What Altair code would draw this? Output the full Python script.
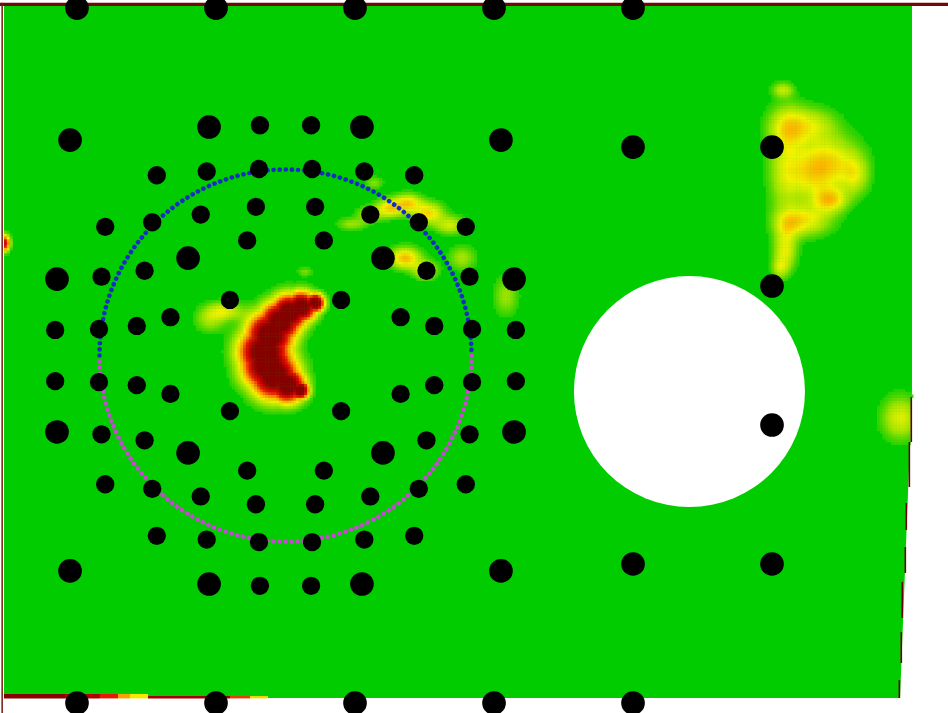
import altair as alt
import numpy as np
import pandas as pd

# ---------------- coordinate frame (mm, grid pitch 100 mm) ----------------
W, H = 948, 713
X_DOMAIN = [-55.4, 626.6]
Y_DOMAIN = [-7.2, 505.8]
PX_PER_MM = W / (X_DOMAIN[1] - X_DOMAIN[0])

# plate outline (right edge slightly slanted)
plate_y = [501.4, 225.2, 3.6]
plate_x_left = [-52.5, -52.5, -52.5]
plate_x_right = [600.7, 600.7, 592.1]

# circular cut-out
hole_center = [440.6, 224.1]
hole_radius = 83.1

# dotted measurement circle
ring_center = [150.0, 250.0]
ring_radius = 133.8

# ---------------- black markers ----------------
grid_dot_x = [0, 100, 200, 300, 400, 0, 100, 200, 300, 400, 400, 500, 500, 500, 400, 500]
grid_dot_y = [500, 500, 500, 500, 500, 0, 0, 0, 0, 0, 400, 400, 300, 200, 100, 100]

ring_large_x = [-5, 305, -5, 305, 95, 205, 95, 205,
                -14.4, 314.4, -14.4, 314.4, 79.9, 220.1, 79.9, 220.1]
ring_large_y = [405, 405, 95, 95, 414.4, 414.4, 85.6, 85.6,
                305, 305, 195, 195, 320.1, 320.1, 179.9, 179.9]

ring_small_x = [131.6, 168.4, 131.6, 168.4, -15.7, 315.7, -15.7, 315.7,
                57.4, 242.6, 57.4, 242.6, 20.3, 279.7, 20.3, 279.7,
                93.3, 206.7, 93.3, 206.7, 17.6, 282.4, 17.6, 282.4,
                130.9, 169.1, 130.9, 169.1, 15.8, 284.2, 15.8, 284.2,
                54.1, 245.9, 54.1, 245.9, 89, 211, 89, 211,
                48.6, 251.4, 48.6, 251.4, 128.7, 171.3, 128.7, 171.3,
                43, 257, 43, 257, 122.4, 177.6, 122.4, 177.6,
                67.2, 232.8, 67.2, 232.8, 110, 190, 110, 190]
ring_small_y = [415.7, 415.7, 84.3, 84.3, 268.4, 268.4, 231.6, 231.6,
                379.7, 379.7, 120.3, 120.3, 342.6, 342.6, 157.4, 157.4,
                382.4, 382.4, 117.6, 117.6, 306.7, 306.7, 193.3, 193.3,
                384.2, 384.2, 115.8, 115.8, 269.1, 269.1, 230.9, 230.9,
                345.9, 345.9, 154.1, 154.1, 351.4, 351.4, 148.6, 148.6,
                311, 311, 189, 189, 357, 357, 143, 143,
                271.3, 271.3, 228.7, 228.7, 332.8, 332.8, 167.2, 167.2,
                277.6, 277.6, 222.4, 222.4, 290, 290, 210, 210]

# ---------------- field: diffuse hot spots ----------------
blob_x = [507.9, 512.9, 530.9, 541.7, 559.7, 509.4, 527.3, 541.7, 523.7, 511.5, 509.4, 505.8,
          225.2, 238.1, 252.5, 268.3, 210.8, 197.8, 213.7, 236.0, 250.4, 277.0, 308.6,
          105.8, 95.7, 592.1, -51.8, 164.0]
blob_y = [441.0, 414.4, 415.8, 388.5, 379.9, 383.5, 379.9, 361.9, 347.5, 343.9, 325.9, 312.9,
          356.1, 359.7, 352.5, 343.9, 351.8, 344.6, 374.1, 320.1, 311.5, 320.1, 292.8,
          282.0, 275.5, 205.0, 330.9, 310.1]
blob_sx = [5.0, 10.0, 11.0, 14.0, 6.5, 8.0, 11.0, 8.0, 12.5, 6.5, 5.5, 4.0,
           6.5, 6.5, 7.2, 7.2, 6.5, 7.2, 4.3, 7.2, 5.8, 6.5, 5.8,
           8.6, 7.2, 8.6, 2.2, 3.6]
blob_sy = [3.6, 10.0, 8.0, 13.0, 9.5, 22.0, 12.5, 6.0, 7.5, 6.5, 9.5, 5.0,
           4.3, 4.3, 5.0, 4.3, 3.6, 2.9, 2.9, 5.0, 4.3, 5.8, 9.4,
           4.3, 5.8, 10.1, 3.6, 2.2]
blob_peak = [0.18, 0.25, 0.16, 0.27, 0.17, 0.18, 0.18, 0.30, 0.25, 0.14, 0.23, 0.16,
             0.30, 0.30, 0.30, 0.20, 0.16, 0.13, 0.11, 0.35, 0.24, 0.14, 0.13,
             0.22, 0.14, 0.22, 0.75, 0.10]

# kidney-shaped hot zone: spine points and local half-width
spine_x = [171.2, 161.2, 152.5, 146.0, 138.8, 135.0, 137.2, 141.7, 151.1, 160.4]
spine_y = [287.8, 284.9, 280.6, 274.1, 264.7, 252.5, 243.2, 236.0, 228.8, 225.2]
spine_w = [6.5, 10.6, 12.9, 14.3, 16.3, 17.8, 17.8, 16.8, 12.4, 6.5]

# boundary artefacts
bottom_x1 = [-52.5, -8.6, 16.5, 29.5, 38.1, 51.1, 110.1, 124.5]
bottom_x2 = [-8.6, 16.5, 29.5, 38.1, 51.1, 110.1, 124.5, 137.4]
bottom_v = [1.0, 0.85, 0.6, 0.4, 0.27, 0.9, 0.55, 0.3]
bottom_top = [6.5, 6.5, 6.5, 6.5, 6.5, 5.0, 5.0, 5.0]

edge_y1 = [220.1, 187.8, 143.9, 112.2, 87.1, 51.1, 16.5]
edge_y2 = [187.8, 155.4, 124.5, 93.5, 61.2, 28.8, 3.6]
edge_x = [600.2, 598.8, 596.6, 595.9, 593.7, 593.0, 591.6]

heat_domain = [0, 0.12, 0.25, 0.4, 0.6, 0.8, 1.0]
heat_range = ["#00cc00", "#98e200", "#f2f200", "#ffa000", "#e81800", "#bc0000", "#860000"]

# ---------------- build field cells ----------------
CELL = 2.0
gx = np.arange(plate_x_left[0], plate_x_right[0], CELL)
gy = np.arange(plate_y[-1], plate_y[0], CELL)
GX, GY = np.meshgrid(gx, gy)
CX, CY = GX + CELL / 2, GY + CELL / 2
soft = np.zeros_like(CX)
for bx, by, sx, sy, p in zip(blob_x, blob_y, blob_sx, blob_sy, blob_peak):
    soft += p * np.exp(-((CX - bx) ** 2 / (2 * sx ** 2) + (CY - by) ** 2 / (2 * sy ** 2)))
kid = np.zeros_like(CX)
for kx, ky, w in zip(spine_x, spine_y, spine_w):
    s = w / 1.6
    kid = np.maximum(kid, 1.3 * np.exp(-((CX - kx) ** 2 + (CY - ky) ** 2) / (2 * s * s)))
val = np.clip(soft + kid, 0, 1)
right_edge = np.interp(CY, plate_y[::-1], plate_x_right[::-1])
inside = (CX <= right_edge) & (((CX - hole_center[0]) ** 2 + (CY - hole_center[1]) ** 2) > hole_radius ** 2)
mask = inside & (val > 0.03)
heat_df = pd.DataFrame({
    "x": GX[mask], "x2": GX[mask] + CELL + 0.3,
    "y": GY[mask], "y2": GY[mask] + CELL + 0.3,
    "v": val[mask],
})

# ---------------- chart ----------------
XS = alt.Scale(domain=X_DOMAIN, nice=False, zero=False)
YS = alt.Scale(domain=Y_DOMAIN, nice=False, zero=False)


def xq(f):
    return alt.X(f, type="quantitative", scale=XS, axis=None)


def yq(f):
    return alt.Y(f, type="quantitative", scale=YS, axis=None)


heat_color = alt.Color("v:Q", scale=alt.Scale(domain=heat_domain, range=heat_range,
                                              clamp=True, interpolate="rgb"), legend=None)

plate = alt.Chart(pd.DataFrame({"y": plate_y, "xl": plate_x_left, "xr": plate_x_right})).mark_area(
    orient="horizontal", color="#00cc00", opacity=1).encode(y=yq("y"), x=xq("xl"), x2="xr")

heat = alt.Chart(heat_df).mark_rect(strokeWidth=0).encode(
    x=xq("x"), x2="x2", y=yq("y"), y2="y2", color=heat_color)

streak = alt.Chart(pd.DataFrame({"x": bottom_x1, "x2": bottom_x2, "y": [3.3] * len(bottom_x1),
                                 "y2": bottom_top, "v": bottom_v})).mark_rect(strokeWidth=0).encode(
    x=xq("x"), x2="x2", y=yq("y"), y2="y2", color=heat_color)

edge = alt.Chart(pd.DataFrame({"x": edge_x, "y": edge_y1, "y2": edge_y2})).mark_rule(
    color="#6a0000", strokeWidth=1.6).encode(x=xq("x"), y=yq("y"), y2="y2")

top_band = alt.Chart(pd.DataFrame({"x": [X_DOMAIN[0]], "x2": [X_DOMAIN[1]],
                                   "y": [501.4], "y2": [503.8]})).mark_rect(color="#700808").encode(
    x=xq("x"), x2="x2", y=yq("y"), y2="y2")

left_line = alt.Chart(pd.DataFrame({"x": [-54.4], "x2": [-53.3],
                                    "y": [Y_DOMAIN[0]], "y2": [503.8]})).mark_rect(color="#7a1c12").encode(
    x=xq("x"), x2="x2", y=yq("y"), y2="y2")

hole = alt.Chart(pd.DataFrame({"x": [hole_center[0]], "y": [hole_center[1]]})).mark_circle(
    color="white", opacity=1, size=(2 * hole_radius * PX_PER_MM) ** 2).encode(x=xq("x"), y=yq("y"))

ring_df = pd.DataFrame({"x": [ring_center[0]], "y": [ring_center[1]]})
ring_size = (2 * ring_radius * PX_PER_MM) ** 2
ring_common = dict(size=ring_size, filled=False, strokeWidth=4.6, strokeDash=[0.1, 5.99],
                   strokeCap="round", opacity=1)
ring_up = alt.Chart(ring_df).mark_point(shape="M-1,0A1,1,0,0,1,1,0", color="#1530c0",
                                        **ring_common).encode(x=xq("x"), y=yq("y"))
ring_lo = alt.Chart(ring_df).mark_point(shape="M1,0A1,1,0,0,1,-1,0", color="#c44ad0",
                                        **ring_common).encode(x=xq("x"), y=yq("y"))

dots_df = pd.DataFrame({
    "x": grid_dot_x + ring_large_x + ring_small_x,
    "y": grid_dot_y + ring_large_y + ring_small_y,
    "kind": ["large"] * (len(grid_dot_x) + len(ring_large_x)) + ["small"] * len(ring_small_x),
})
dots = alt.Chart(dots_df).mark_circle(color="black", opacity=1).encode(
    x=xq("x"), y=yq("y"),
    size=alt.Size("kind:N", scale=alt.Scale(domain=["large", "small"], range=[560, 335]), legend=None))

chart = alt.layer(plate, heat, streak, edge, top_band, left_line, hole, ring_up, ring_lo, dots).properties(
    width=W, height=H, padding=0, autosize=alt.AutoSizeParams(type="none"), background="white"
).configure_view(stroke=None)

chart.save("out.html", embed_options={"renderer": "svg", "actions": False})
